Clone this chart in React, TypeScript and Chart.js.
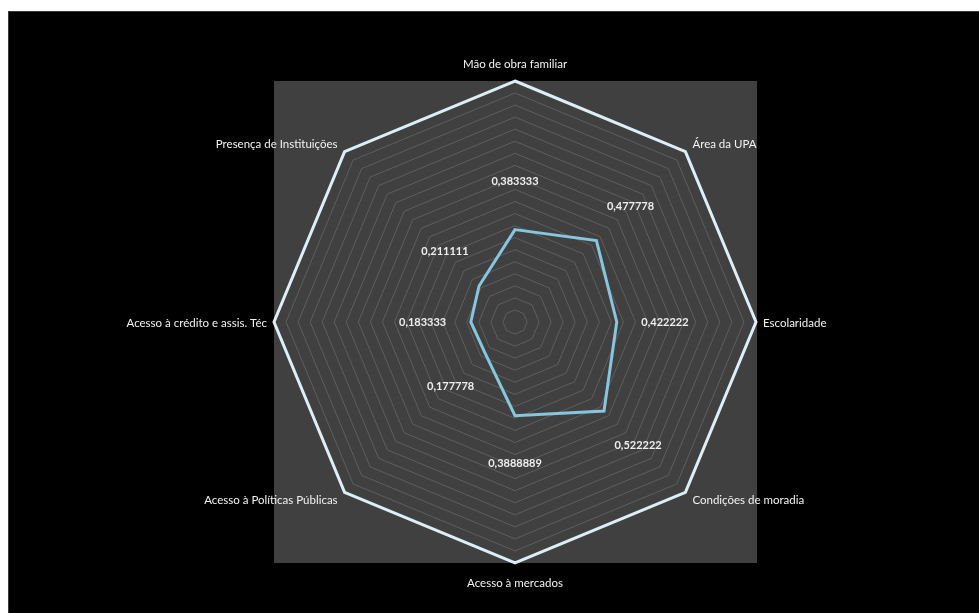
import React, { useEffect, useRef } from "react";
import { Chart, registerables } from "chart.js";

Chart.register(...registerables);

const categories = [
  "Mão de obra familiar",
  "Área da UPA",
  "Escolaridade",
  "Condições de moradia",
  "Acesso à mercados",
  "Acesso à Políticas Públicas",
  "Acesso à crédito e assis. Téc",
  "Presença de Instituições",
];

const indicatorValues = [0.383333, 0.477778, 0.422222, 0.522222, 0.3888889, 0.177778, 0.183333, 0.211111];
const referenceValues = [1, 1, 1, 1, 1, 1, 1, 1];
const valueLabels = indicatorValues.map((v) => String(v).replace(".", ","));

const LABEL_FONT = "11.5px Lato";
const VALUE_FONT = "bold 11px Lato";
const VALUE_LABEL_SHIFT = 0.2;

const backgroundPlugin = {
  id: "bgPanel",
  beforeDraw(chart: any) {
    const { ctx, chartArea: a } = chart;
    ctx.save();
    ctx.fillStyle = "#000000";
    ctx.fillRect(0, 0, chart.width, chart.height);
    ctx.fillStyle = "#404040";
    ctx.fillRect(a.left, a.top, a.right - a.left, a.bottom - a.top);
    ctx.restore();
  },
};

const labelPlugin = {
  id: "radarLabels",
  afterDatasetsDraw(chart: any) {
    const { ctx } = chart;
    const scale = chart.scales.r;
    ctx.save();
    ctx.textBaseline = "middle";
    // category labels
    ctx.font = LABEL_FONT;
    ctx.fillStyle = "#f2f2f2";
    categories.forEach((c, i) => {
      const p = scale.getPointPositionForValue(i, 1);
      const dx = p.x - scale.xCenter;
      const dy = p.y - scale.yCenter;
      let x = p.x;
      let y = p.y;
      if (Math.abs(dx) < 1) {
        ctx.textAlign = "center";
        y += dy < 0 ? -17 : 20;
      } else {
        ctx.textAlign = dx > 0 ? "left" : "right";
        x += dx > 0 ? 7 : -7;
        if (Math.abs(dy) < 1) y += 1;
        else y += dy < 0 ? -7 : 8;
      }
      ctx.fillText(c, x, y);
    });
    // value labels
    ctx.font = VALUE_FONT;
    ctx.fillStyle = "#eeeeee";
    ctx.textAlign = "center";
    indicatorValues.forEach((v, i) => {
      const p = scale.getPointPositionForValue(i, v + VALUE_LABEL_SHIFT);
      ctx.fillText(valueLabels[i], p.x, p.y);
    });
    ctx.restore();
  },
};

export default function App() {
  const canvasRef = useRef<HTMLCanvasElement | null>(null);

  useEffect(() => {
    if (!canvasRef.current) return;
    const chart = new Chart(canvasRef.current, {
      type: "radar",
      data: {
        labels: categories,
        datasets: [
          {
            label: "Referência",
            data: referenceValues,
            borderColor: "#dceff6",
            borderWidth: 3,
            fill: false,
            pointRadius: 0,
            pointHoverRadius: 0,
          },
          {
            label: "Indicadores",
            data: indicatorValues,
            borderColor: "#86c6df",
            borderWidth: 3,
            fill: false,
            pointRadius: 0,
            pointHoverRadius: 0,
          },
        ],
      },
      options: {
        animation: false,
        responsive: true,
        maintainAspectRatio: false,
        layout: { padding: { left: 265, top: 69, right: 222, bottom: 50 } },
        plugins: { legend: { display: false }, tooltip: { enabled: false } },
        elements: { line: { tension: 0, borderJoinStyle: "miter" } },
        scales: {
          r: {
            min: 0,
            max: 1,
            ticks: { display: false, stepSize: 0.05 },
            grid: { color: "#5e5e5e", lineWidth: 1 },
            angleLines: { display: false },
            pointLabels: { display: false },
          },
        },
      },
      plugins: [backgroundPlugin, labelPlugin],
    });
    return () => chart.destroy();
  }, []);

  return (
    <div
      style={{
        position: "absolute",
        left: 8,
        top: 11,
        width: 971,
        height: 602,
        background: "#000",
        borderTop: "1px solid #3a3a3a",
        borderLeft: "1px solid #3a3a3a",
        boxSizing: "border-box",
      }}
    >
      <canvas ref={canvasRef} />
    </div>
  );
}
